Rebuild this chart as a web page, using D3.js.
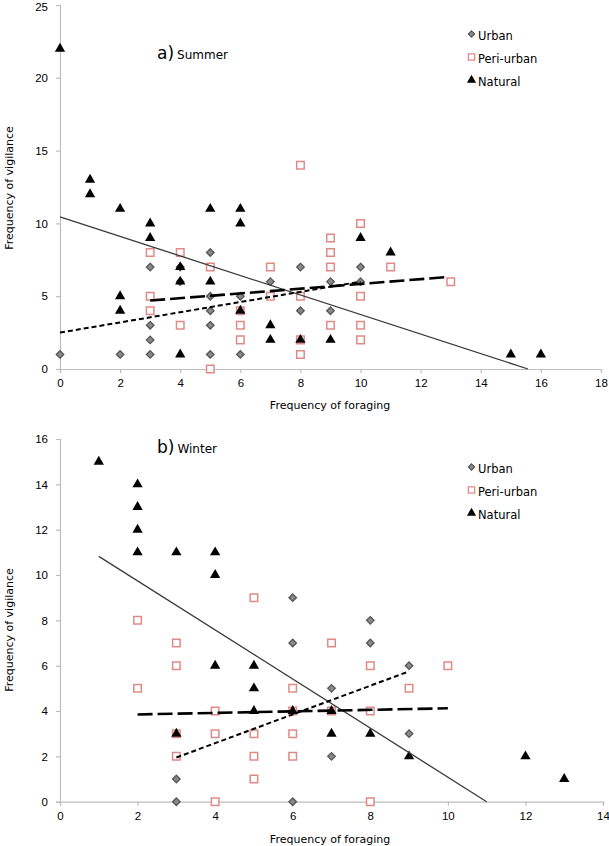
<!DOCTYPE html>
<html><head><meta charset="utf-8">
<script src="https://cdn.jsdelivr.net/npm/d3@7"></script>
<style>
body{margin:0;background:#fff;}
svg{display:block;font-family:"DejaVu Sans",sans-serif;}
</style></head>
<body><svg id="c" width="609" height="846"></svg>
<script>
// ---- Summer data ----
const summerUrban = [[0,1],[2,1],[3,1],[3,2],[3,3],[3,7],[4,7],[4,6],[5,8],[5,5],[5,4],[5,3],[5,1],[6,5],[6,1],[7,6],[8,7],[8,4],[9,6],[9,4],[10,7],[10,6]];
const summerPeri = [[3,8],[3,5],[3,4],[4,8],[4,3],[5,7],[5,0],[6,4],[6,3],[6,2],[7,7],[7,5],[8,14],[8,5],[8,2],[8,1],[9,9],[9,8],[9,7],[9,3],[10,10],[10,5],[10,3],[10,2],[11,7],[13,6]];
const summerNatural = [[0,22],[1,13],[1,12],[2,11],[2,5],[2,4],[3,10],[3,9],[4,7],[4,6],[4,1],[5,11],[5,6],[6,11],[6,10],[6,4],[7,3],[7,2],[8,2],[9,2],[10,9],[11,8],[15,1],[16,1]];
const summerTrendUrban = [[0,2.5],[10,6.0]];
const summerTrendPeri = [[3,4.7],[12.8,6.3]];
const summerTrendNatural = [[0,10.45],[15.57,0]];
const summerXTicks = [0,2,4,6,8,10,12,14,16,18];
const summerYTicks = [0,5,10,15,20,25];

// ---- Winter data ----
const winterUrban = [[3,1],[3,0],[6,9],[6,7],[6,0],[7,5],[7,2],[8,8],[8,7],[9,6],[9,3]];
const winterPeri = [[2,8],[2,5],[3,7],[3,6],[3,3],[3,2],[4,4],[4,3],[4,0],[5,9],[5,3],[5,2],[5,1],[6,5],[6,4],[6,3],[6,2],[7,7],[7,4],[8,6],[8,4],[8,0],[9,5],[10,6]];
const winterNatural = [[1,15],[2,14],[2,13],[2,12],[2,11],[3,11],[3,3],[4,11],[4,10],[4,6],[5,6],[5,5],[5,4],[6,4],[7,4],[7,3],[8,3],[9,2],[12,2],[13,1]];
const winterTrendUrban = [[3,1.95],[9,5.75]];
const winterTrendPeri = [[2,3.85],[10,4.12]];
const winterTrendNatural = [[1,10.82],[11,0]];
const winterXTicks = [0,2,4,6,8,10,12,14];
const winterYTicks = [0,2,4,6,8,10,12,14,16];

const seriesNames = ["Urban","Peri-urban","Natural"];

const svg = d3.select("#c");
const AXIS = "#bdbdbd";

function panel(cfg){
  const g = svg.append("g");
  const x = d3.scaleLinear().domain(cfg.xd).range([60, cfg.xr]);
  const y = d3.scaleLinear().domain(cfg.yd).range([cfg.y0, cfg.y1]);

  const xa = g.append("g").attr("transform",`translate(0,${cfg.y0})`)
    .call(d3.axisBottom(x).tickValues(cfg.xt).tickSize(4).tickPadding(6).tickFormat(d3.format("d")));
  const ya = g.append("g").attr("transform","translate(60,0)")
    .call(d3.axisLeft(y).tickValues(cfg.yt).tickSize(4).tickPadding(8).tickFormat(d3.format("d")));
  [xa,ya].forEach(a=>{
    a.selectAll("path,line").attr("stroke",AXIS).attr("stroke-width",1.2);
    a.selectAll("text").attr("fill","#000").attr("font-size",11.5);
  });
  // keep the top y label inside the picture
  ya.selectAll(".tick text").filter(d=>y(d) < 9).attr("dy","0.5em");

  g.append("text").attr("x",330).attr("y",cfg.xtitleY).attr("text-anchor","middle")
    .attr("font-size",11).attr("fill","#000").text("Frequency of foraging");
  g.append("text").attr("transform",`translate(13,${cfg.ytitleY}) rotate(-90)`).attr("text-anchor","middle")
    .attr("font-size",11).attr("fill","#000").text("Frequency of vigilance");

  const t = g.append("text").attr("x",157).attr("y",cfg.titleY).attr("fill","#000");
  t.append("tspan").attr("font-size",17).text(cfg.tag);
  t.append("tspan").attr("font-size",12).attr("dx",3).text(cfg.season);

  const line = d3.line().x(d=>x(d[0])).y(d=>y(d[1]));
  const sym = {
    diamond: d3.symbol().type(d3.symbolDiamond2).size(36),
    square: d3.symbol().type(d3.symbolSquare2).size(72),
    tri: d3.symbol().type(d3.symbolTriangle).size(46)
  };
  function drawUrban(sel){ sel.attr("d",sym.diamond()).attr("fill","#8a8a8a").attr("stroke","#555").attr("stroke-width",1.3); }
  function drawPeri(sel){ sel.attr("d",sym.square()).attr("fill","#fff").attr("stroke","#e08a86").attr("stroke-width",1.5); }
  function drawNat(sel){ sel.attr("d",sym.tri()).attr("fill","#000"); }

  g.selectAll(".u").data(cfg.urban).join("path").attr("transform",d=>`translate(${x(d[0])},${y(d[1])})`).call(drawUrban);
  g.selectAll(".p").data(cfg.peri).join("path").attr("transform",d=>`translate(${x(d[0])},${y(d[1])})`).call(drawPeri);
  g.selectAll(".n").data(cfg.nat).join("path").attr("transform",d=>`translate(${x(d[0])},${y(d[1])})`).call(drawNat);

  g.append("path").attr("d",line(cfg.tn)).attr("stroke","#3a3a3a").attr("stroke-width",1.3).attr("fill","none");
  g.append("path").attr("d",line(cfg.tp)).attr("stroke","#000").attr("stroke-width",2.6).attr("stroke-dasharray","15,5").attr("fill","none");
  g.append("path").attr("d",line(cfg.tu)).attr("stroke","#000").attr("stroke-width",2).attr("stroke-dasharray","5,3").attr("fill","none");

  // legend
  const lg = g.append("g");
  seriesNames.forEach((nm,i)=>{
    const cy = cfg.legY + i*23;
    const m = lg.append("path").attr("transform",`translate(471.5,${cy-2})`);
    if(i===0) m.attr("d",d3.symbol().type(d3.symbolDiamond2).size(26)()).attr("fill","#8a8a8a").attr("stroke","#555").attr("stroke-width",1.1);
    if(i===1) m.attr("d",d3.symbol().type(d3.symbolSquare2).size(50)()).attr("fill","#fff").attr("stroke","#e08a86").attr("stroke-width",1.3);
    if(i===2) m.attr("d",d3.symbol().type(d3.symbolTriangle).size(36)()).attr("fill","#000");
    lg.append("text").attr("x",478).attr("y",cy+4).attr("font-size",11.5).attr("fill","#000").text(nm);
  });
}

panel({xd:[0,18],xr:601,yd:[0,25],y0:369,y1:5,xt:summerXTicks,yt:summerYTicks,
  urban:summerUrban,peri:summerPeri,nat:summerNatural,tu:summerTrendUrban,tp:summerTrendPeri,tn:summerTrendNatural,
  xtitleY:409,ytitleY:188,titleY:59,tag:"a)",season:"Summer",legY:36});
panel({xd:[0,14],xr:603,yd:[0,16],y0:801.7,y1:439,xt:winterXTicks,yt:winterYTicks,
  urban:winterUrban,peri:winterPeri,nat:winterNatural,tu:winterTrendUrban,tp:winterTrendPeri,tn:winterTrendNatural,
  xtitleY:843,ytitleY:630,titleY:453,tag:"b)",season:"Winter",legY:469});
</script></body></html>
